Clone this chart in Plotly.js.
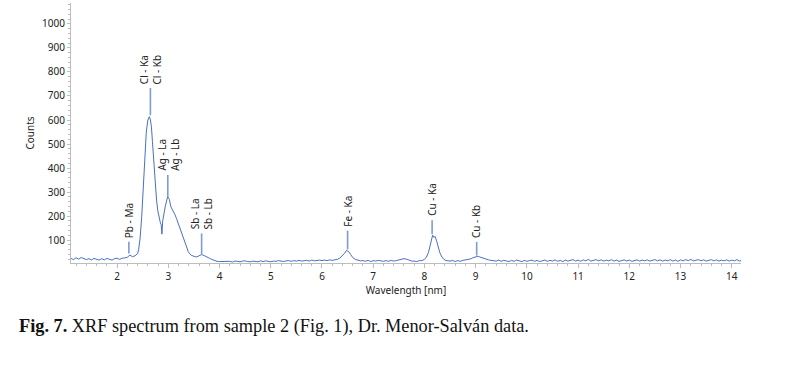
<!DOCTYPE html>
<html>
<head>
<meta charset="utf-8">
<script src="https://cdn.plot.ly/plotly-3.0.1.min.js"></script>
<style>html,body{margin:0;padding:0;background:#fff;}#chart{width:800px;height:376px;}</style>
</head>
<body>
<div id="chart"></div>
<script>
// Spectrum: energy axis values (as labelled "Wavelength [nm]") and counts
const energy = [
1.10,1.15,1.20,1.25,1.30,1.35,1.40,1.45,1.50,1.55,1.60,1.65,1.70,1.75,1.80,1.85,1.90,1.95,2.00,2.05,2.10,2.15,2.20,2.25,2.30,2.35,2.40,
2.42,2.45,2.48,2.51,2.54,2.57,2.60,2.62,2.63,2.65,2.67,2.69,2.72,2.745,2.77,2.795,2.82,2.845,2.86,2.875,2.89,2.91,2.94,2.97,2.99,3.00,3.02,
3.05,3.08,3.11,3.13,3.16,3.19,3.22,3.26,3.29,3.32,3.355,3.39,3.42,3.45,3.50,3.55,3.60,3.65,3.70,3.75,3.80,3.85,3.90,3.95,4.00,
4.05,4.10,4.15,4.20,4.25,4.30,4.35,4.40,4.45,4.50,4.55,4.60,4.65,4.70,4.75,4.80,4.85,4.90,4.95,5.00,5.05,5.10,5.15,5.20,5.25,5.30,
5.35,5.40,5.45,5.50,5.55,5.60,5.65,5.70,5.75,5.80,5.85,5.90,5.95,6.00,6.05,6.10,6.15,
6.20,6.25,6.30,6.35,6.40,6.44,6.48,6.50,6.53,6.56,6.60,6.65,6.70,6.75,
6.80,6.85,6.90,6.95,7.00,7.05,7.10,7.15,7.20,7.25,7.30,7.35,7.40,7.45,
7.50,7.55,7.60,7.65,7.70,7.75,7.80,7.85,7.90,7.95,
8.00,8.04,8.08,8.11,8.14,8.16,8.18,8.21,8.24,8.27,8.30,8.34,8.38,8.42,8.46,
8.50,8.55,8.60,8.65,8.70,8.75,8.80,
8.85,8.90,8.95,9.00,9.04,9.08,9.12,9.16,9.20,9.25,9.30,
9.35,9.40,9.45,9.50,9.55,9.60,9.65,9.70,9.75,9.80,
9.85,9.90,9.95,10.00,10.05,10.10,10.15,10.20,10.25,10.30,
10.35,10.40,10.45,10.50,10.55,10.60,10.65,10.70,10.75,10.80,
10.85,10.90,10.95,11.00,11.05,11.10,11.15,11.20,11.25,11.30,
11.35,11.40,11.45,11.50,11.55,11.60,11.65,11.70,11.75,11.80,
11.85,11.90,11.95,12.00,12.05,12.10,12.15,12.20,12.25,12.30,
12.35,12.40,12.45,12.50,12.55,12.60,12.65,12.70,12.75,12.80,
12.85,12.90,12.95,13.00,13.05,13.10,13.15,13.20,13.25,13.30,
13.35,13.40,13.45,13.50,13.55,13.60,13.65,13.70,13.75,13.80,
13.85,13.90,13.95,14.00,14.05,14.10,14.15,14.18
];
const counts = [
24,19,27,21,28,24,19,23,18,24,20,17,23,18,24,20,17,23,25,20,25,26,29,38,31,35,44,
60,110,197,330,475,550,600,608,614,600,572,510,405,330,267,222,190,172,165,125,180,211,240,267,282,278,270,
239,228,212,206,190,172,152,130,110,88,68,52,43,37,33,30,35,40,36,32,25,20,15,12,11,
12,10,14,12,9,13,12,10,13,14,11,10,13,12,10,14,11,14,12,10,13,12,15,12,11,14,
15,12,15,13,16,13,14,16,13,17,14,16,17,15,17,15,18,
16,18,20,26,35,45,58,55,50,40,28,20,16,14,
15,12,16,11,15,13,16,13,12,15,12,16,13,15,
17,20,23,21,17,13,13,11,15,15,
20,30,50,75,105,121,112,115,95,70,48,30,20,15,13,
13,16,11,15,12,16,17,
18,22,27,31,33,30,27,23,20,18,16,
16,13,17,12,16,13,11,16,12,17,
14,11,16,12,15,17,12,16,11,15,
17,12,16,13,18,12,16,11,17,13,
16,19,13,17,12,18,14,20,13,17,
19,14,18,13,17,14,19,13,17,12,
16,18,13,17,12,16,18,13,17,14,
18,13,17,19,14,18,13,17,14,19,
13,17,12,18,14,19,15,20,14,18,
19,14,18,13,17,19,14,18,13,17,
14,18,13,17,14,19,13,15
];

// Peak identification labels
const peakLabels = ["Pb - Ma", "Cl - Ka<br>Cl - Kb", "Ag - La<br>Ag - Lb", "Sb - La<br>Sb - Lb", "Fe - Ka", "Cu - Ka", "Cu - Kb"];
const peakX      = [2.23, 2.65, 2.99, 3.65, 6.50, 8.15, 9.02];
const markerLow  = [45, 620, 282, 42, 62, 125, 36];
const markerHigh = [93, 733, 371, 128, 140, 183, 93];

const yTickVals = [100,200,300,400,500,600,700,800,900,1000];
const xTickVals = [2,3,4,5,6,7,8,9,10,11,12,13,14];

const caption = "<b>Fig. 7.</b> XRF spectrum from sample 2 (Fig. 1), Dr. Menor-Salván data.";

const lineBlue = "#4a6fc4";
const markBlue = "#7d9bd6";
const axisGrey = "#bdbdbd";
const tickFont = {family: "Noto Sans, DejaVu Sans, sans-serif", size: 10, color: "#222"};

const shapes = peakX.map((x, i) => ({
  type: "line", xref: "x", yref: "y",
  x0: x, x1: x, y0: markerLow[i], y1: markerHigh[i],
  line: {color: markBlue, width: 1.6}
}));

const annotations = peakX.map((x, i) => ({
  x: x, y: markerHigh[i], xref: "x", yref: "y",
  text: peakLabels[i], showarrow: false, textangle: -90,
  xanchor: "center", yanchor: "bottom", yshift: 2,
  font: {family: "Noto Sans, DejaVu Sans, sans-serif", size: 10, color: "#222"}
}));

annotations.push({
  xref: "paper", yref: "paper", x: -0.0806, y: -0.243,
  xanchor: "left", yanchor: "middle", showarrow: false,
  text: caption, align: "left",
  font: {family: "Liberation Serif, Times New Roman, serif", size: 18.3, color: "#111"}
});

const trace = {
  x: energy, y: counts, type: "scatter", mode: "lines",
  line: {color: lineBlue, width: 1}, hoverinfo: "skip"
};

const layout = {
  width: 800, height: 376,
  margin: {l: 71, r: 59, t: 3, b: 113, pad: 0},
  paper_bgcolor: "#fff", plot_bgcolor: "#fff",
  showlegend: false,
  xaxis: {
    range: [1.10, 14.18], tickvals: xTickVals, ticktext: xTickVals.map(String),
    showgrid: false, zeroline: false, showline: true, linecolor: axisGrey, linewidth: 1,
    ticks: "outside", ticklen: 4, tickcolor: axisGrey, tickfont: tickFont,
    minor: {dtick: 0.2, ticks: "outside", ticklen: 2, tickcolor: axisGrey, showgrid: false},
    title: {text: "Wavelength [nm]", font: tickFont, standoff: 1}
  },
  yaxis: {
    range: [5, 1087], tickvals: yTickVals, ticktext: yTickVals.map(String),
    showgrid: false, zeroline: false, showline: true, linecolor: axisGrey, linewidth: 1,
    ticks: "outside", ticklen: 3, tickcolor: axisGrey, tickfont: tickFont,
    minor: {dtick: 20, ticks: "outside", ticklen: 2, tickcolor: axisGrey, showgrid: false},
    title: {text: "Counts", font: tickFont, standoff: 5}
  },
  shapes: shapes,
  annotations: annotations
};

Plotly.newPlot("chart", [trace], layout, {staticPlot: true, displayModeBar: false});
</script>
</body>
</html>
